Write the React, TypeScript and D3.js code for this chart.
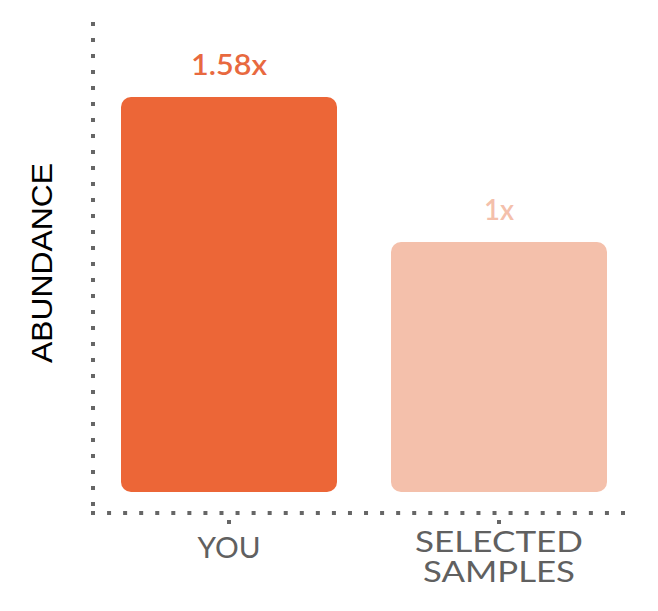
import React from "react";
import * as d3 from "d3";

const categories = ["YOU", "SELECTED SAMPLES"];
const categoryLines = [["YOU"], ["SELECTED", "SAMPLES"]];
const values = [1.58, 1];
const valueLabels = ["1.58x", "1x"];
const barColors = ["#EC6637", "#F4C0AB"];
const labelColors = ["#E8693F", "#F4C0AB"];
const yAxisTitle = "ABUNDANCE";

export default function App() {
  const W = 658, H = 611;
  const axisX = 93, axisY = 513;
  const base = 492;
  const x = d3.scaleBand<string>().domain(categories).range([94, 634]).paddingInner(0.2).paddingOuter(0.1);
  const y = d3.scaleLinear().domain([0, 1.88]).range([base, 22]);
  const font = "Lato, 'Open Sans', sans-serif";
  const dotsY = d3.range(24, axisY - 4, 16);
  const dotsX = d3.range(34).map((i) => axisX + (i * (623 - axisX)) / 33);
  const catWidths = [[63], [168, 152]];
  const valWidths = [76, 30];
  return (
    <svg width={W} height={H} style={{ position: "absolute", left: 0, top: 0 }}>
      <rect width={W} height={H} fill="#fff" />
      {dotsY.map((d, i) => (
        <rect key={"dy" + i} x={axisX - 2} y={d - 2} width={4} height={4} fill="#666" />
      ))}
      {dotsX.map((d, i) => (
        <rect key={"dx" + i} x={d - 2} y={axisY - 2} width={4} height={4} fill="#666" />
      ))}
      {categories.map((c, i) => {
        const bx = x(c)!;
        const bw = x.bandwidth();
        const cx = bx + bw / 2;
        const lines = categoryLines[i];
        const firstBase = lines.length > 1 ? 552 : 558;
        return (
          <g key={c}>
            <rect x={bx} y={y(values[i])} width={bw} height={base - y(values[i])} rx={10} fill={barColors[i]} />
            <text
              x={cx}
              y={y(values[i]) - 22}
              textAnchor="middle"
              fontFamily={font}
              fontSize={28}
              fontWeight={600}
              fill={labelColors[i]}
              textLength={valWidths[i]}
              lengthAdjust="spacingAndGlyphs"
            >
              {valueLabels[i]}
            </text>
            <rect x={cx - 2} y={520} width={4} height={4} fill="#666" />
            <text textAnchor="middle" fontFamily={font} fontSize={29} fill="#606060">
              {lines.map((l, j) => (
                <tspan key={j} x={cx} y={firstBase + j * 30} textLength={catWidths[i][j]} lengthAdjust="spacingAndGlyphs">
                  {l}
                </tspan>
              ))}
            </text>
          </g>
        );
      })}
      <text
        transform={`translate(52,263) rotate(-90)`}
        textAnchor="middle"
        fontFamily="'Liberation Sans', Arial, sans-serif"
        fontSize={29}
        fill="#000"
        textLength={200}
        lengthAdjust="spacingAndGlyphs"
      >
        {yAxisTitle}
      </text>
    </svg>
  );
}
